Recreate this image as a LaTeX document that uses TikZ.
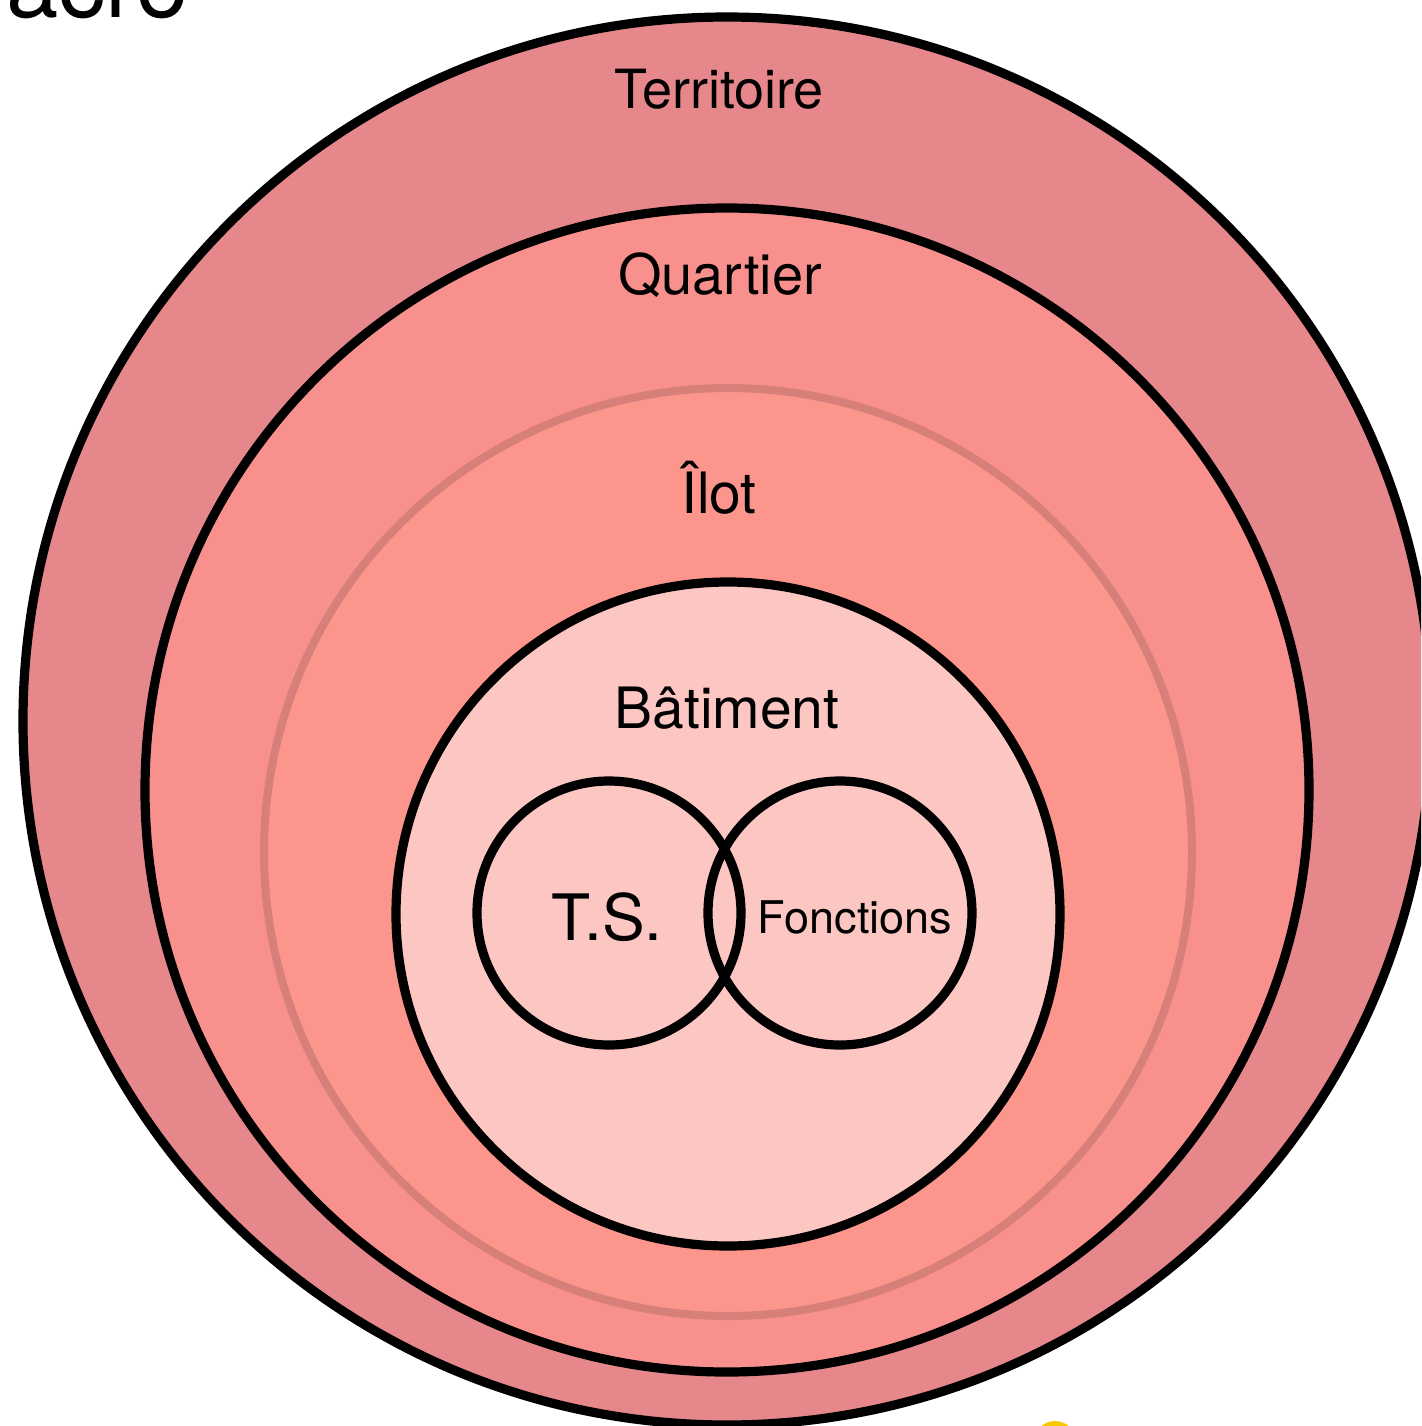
\documentclass[tikz,border=0pt]{standalone}
\usepackage{fontspec}
\setmainfont{TeX Gyre Heros}
\definecolor{terr}{HTML}{E6878B}
\definecolor{quart}{HTML}{F8918D}
\definecolor{ilot}{HTML}{FC958B}
\definecolor{ilotline}{HTML}{D77F79}
\definecolor{bat}{HTML}{FCC6C3}
\definecolor{yel}{HTML}{F8C800}
\tikzset{
  ring/.style={circle, inner sep=0pt, outer sep=0pt, draw=black, line width=4.6pt},
  lbl/.style={inner sep=0pt, text=black},
}
\begin{document}
\begin{tikzpicture}[x=0.5pt,y=-0.5pt]
\useasboundingbox (0,0) rectangle (1421,1426);
\clip (0,0) rectangle (1421,1426);
\fill[white] (0,0) rectangle (1421,1426);
% partial title text
\node[lbl, anchor=base east, font=\fontsize{47}{50}\selectfont] (title) at (189,17) {acro};
% partial yellow mark
\fill[yel] (1055,1442) circle (21);
% rings
\node[ring, fill=terr, minimum size=704pt] (territoire) at (727,721) {};
\node[ring, fill=quart, minimum size=582pt] (quartier) at (727,790) {};
\node[ring, fill=ilot, draw=ilotline, line width=4pt, minimum size=464pt] (ilotc) at (728,852) {};
\node[ring, fill=bat, minimum size=332pt] (batiment) at (728,914) {};
\node[ring, minimum size=132pt] (ts) at (609,913) {};
\node[ring, minimum size=132pt] (fonctions) at (840,913) {};
% labels
\node[lbl, font=\fontsize{27}{30}\selectfont] (tterr) at (719,89) {Territoire};
\node[lbl, font=\fontsize{28}{31}\selectfont] (tquart) at (720,275) {Quartier};
\node[lbl, font=\fontsize{28.5}{31}\selectfont] (tilot) at (719,488) {Îlot};
\node[lbl, font=\fontsize{28.5}{31}\selectfont] (tbat) at (727,708) {Bâtiment};
\node[lbl, font=\fontsize{32}{35}\selectfont] (tts) at (607,917) {T.S.};
\node[lbl, font=\fontsize{22.5}{25}\selectfont] (tfonc) at (855,917) {Fonctions};
\end{tikzpicture}
\end{document}
